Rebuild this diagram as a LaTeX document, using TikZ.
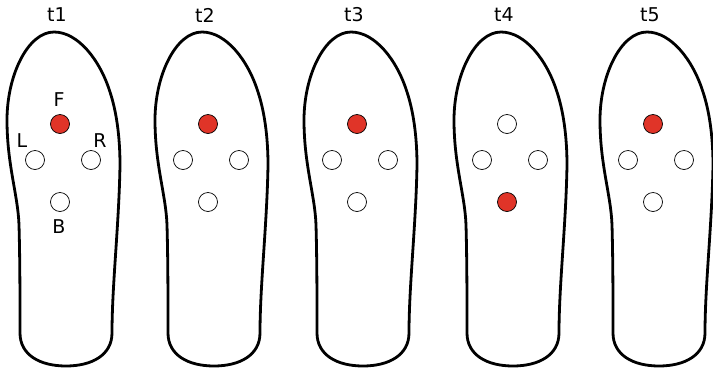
\documentclass[tikz,border=0pt]{standalone}
\usepackage{fontspec}
\setmainfont{DejaVu Sans}
\definecolor{dotred}{RGB}{224,52,40}
\begin{document}
\begin{tikzpicture}[x=1pt,y=-1pt,
  sole/.style={line width=2.8pt, line join=round},
  sensor/.style={circle, draw=black, line width=0.7pt, minimum size=19pt, inner sep=0pt, fill=white},
  active/.style={sensor, fill=dotred},
  lbl/.style={font=\fontsize{19}{19}\selectfont, inner sep=0pt},
]
\useasboundingbox (0,0) rectangle (713,373);
\foreach \i/\cx/\fs/\bs in {1/60/active/sensor, 2/208/active/sensor, 3/357/active/sensor, 4/507/sensor/active, 5/653/active/sensor}{
  \begin{scope}[shift={(\cx,0)}]
    \draw[sole] (-6,32)
      .. controls (-32,32) and (-53,75) .. (-53,120)
      .. controls (-53,165) and (-42,195) .. (-41,225)
      .. controls (-40,260) and (-40,300) .. (-40,333)
      .. controls (-40,355) and (-20,366) .. (6,366)
      .. controls (32,366) and (52,355) .. (52,333)
      .. controls (52,285) and (59,225) .. (60,165)
      .. controls (60,135) and (56,110) .. (50,92)
      .. controls (40,60) and (18,32) .. cycle;
    \node[lbl] (t\i) at (-3,15) {t\i};
    \node[\fs] (F\i) at (0,124) {};
    \node[sensor] (L\i) at (-25,160) {};
    \node[sensor] (R\i) at (31,160) {};
    \node[\bs] (B\i) at (0,202) {};
  \end{scope}
}
\node[lbl] (labF) at (59,100) {F};
\node[lbl] (labL) at (22,141) {L};
\node[lbl] (labR) at (100,141) {R};
\node[lbl] (labB) at (59,227) {B};
\end{tikzpicture}
\end{document}
